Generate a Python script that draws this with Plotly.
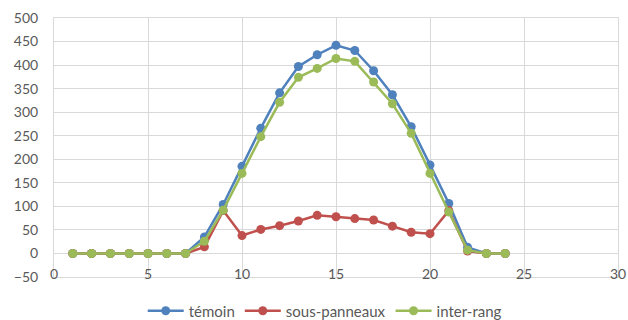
import plotly.graph_objects as go

hours = list(range(1, 25))
temoin = [0, 0, 0, 0, 0, 0, 0, 35, 104, 185, 266, 341, 397, 422, 442, 431, 388, 337, 269, 188, 106, 13, 0, 0]
sous_panneaux = [0, 0, 0, 0, 0, 0, 0, 14, 91, 38, 51, 59, 69, 81, 78, 74, 71, 58, 45, 42, 91, 5, 0, 0]
inter_rang = [0, 0, 0, 0, 0, 0, 0, 26, 92, 170, 248, 321, 374, 393, 414, 408, 364, 318, 255, 170, 88, 7, 0, 0]

series = [
    ("témoin", temoin, "#4F81BD"),
    ("sous-panneaux", sous_panneaux, "#C0504D"),
    ("inter-rang", inter_rang, "#9BBB59"),
]

fig = go.Figure()
for name, values, color in series:
    fig.add_trace(go.Scatter(
        x=hours, y=values, name=name, mode="lines+markers",
        line=dict(color=color, width=2.5),
        marker=dict(color=color, size=9),
    ))

grid = "#D9D9D9"
tick_font = dict(family="Lato, Liberation Sans, sans-serif", size=14, color="#595959")
legend_font = dict(family="Lato, Liberation Sans, sans-serif", size=15, color="#595959")

fig.update_layout(
    width=628, height=320,
    margin=dict(l=54, r=10, t=18, b=43),
    paper_bgcolor="white", plot_bgcolor="white",
    showlegend=True,
    legend=dict(
        orientation="h", x=0.48, xanchor="center",
        y=1 - 311 / 320, yref="container", yanchor="middle",
        font=legend_font, itemwidth=36,
    ),
    xaxis=dict(
        range=[0, 30], tickvals=list(range(0, 31, 5)),
        showgrid=True, gridcolor=grid, gridwidth=1,
        zeroline=False, showline=True, linecolor=grid, mirror=True,
        tickfont=tick_font, ticklabelstandoff=-16, automargin=False,
    ),
    yaxis=dict(
        range=[-50, 500], tickvals=list(range(-50, 501, 50)),
        showgrid=True, gridcolor=grid, gridwidth=1,
        zeroline=True, zerolinecolor=grid, zerolinewidth=1,
        showline=True, linecolor=grid, mirror=True,
        tickfont=tick_font, ticklabelstandoff=12, automargin=False,
    ),
    hovermode=False,
)

fig.write_html("out.html")
